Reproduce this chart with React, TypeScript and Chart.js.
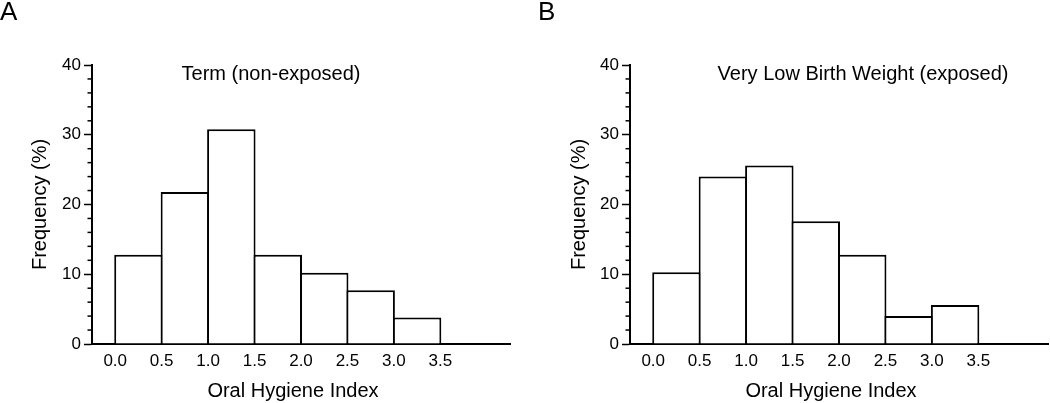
import React, { useEffect, useRef } from "react";
import { Chart, registerables } from "chart.js";

Chart.register(...registerables);

// ---- data ----
const binEdges = [0, 0.5, 1.0, 1.5, 2.0, 2.5, 3.0, 3.5];
const termFreq = [12.8, 21.8, 30.8, 12.8, 10.2, 7.7, 3.8];
const vlbwFreq = [10.3, 24.0, 25.6, 17.6, 12.8, 4.0, 5.6];
const yMajorTicks = [0, 10, 20, 30, 40];
const yMinorStep = 2;
const panelLetters = ["A", "B"];
const panelTitles = ["Term (non-exposed)", "Very Low Birth Weight (exposed)"];
const xAxisTitle = "Oral Hygiene Index";
const yAxisTitle = "Frequency (%)";

const FONT = "'Liberation Sans', Arial, Helvetica, sans-serif";

type Panel = {
  letter: string;
  title: string;
  freq: number[];
  yScaleWidth: number;
  padRight: number;
  yTitlePad: number;
  letterX: number;
  titleX: number;
};

const panels: Panel[] = [
  {
    letter: panelLetters[0],
    title: panelTitles[0],
    freq: termFreq,
    yScaleWidth: 92,
    padRight: 15,
    yTitlePad: 28.5,
    letterX: 0,
    titleX: 271,
  },
  {
    letter: panelLetters[1],
    title: panelTitles[1],
    freq: vlbwFreq,
    yScaleWidth: 105,
    padRight: 2,
    yTitlePad: 42,
    letterX: 13,
    titleX: 338,
  },
];

const annotPlugin = {
  id: "annot",
  afterDraw(chart: any, _args: any, opts: any) {
    const { ctx, chartArea } = chart;
    const y = chart.scales.y;
    ctx.save();
    ctx.strokeStyle = "#000";
    ctx.lineWidth = 1.5;
    for (let v = y.min; v <= y.max; v += yMinorStep) {
      if (yMajorTicks.includes(v)) continue;
      const py = y.getPixelForValue(v);
      ctx.beginPath();
      ctx.moveTo(chartArea.left - 4.5, py);
      ctx.lineTo(chartArea.left, py);
      ctx.stroke();
    }
    ctx.fillStyle = "#000";
    ctx.textBaseline = "alphabetic";
    ctx.font = `26px ${FONT}`;
    ctx.textAlign = "left";
    ctx.fillText(opts.letter, opts.letterX, 20);
    ctx.font = `20px ${FONT}`;
    ctx.textAlign = "center";
    ctx.fillText(opts.title, opts.titleX, 80);
    ctx.fillText(xAxisTitle, (chartArea.left + chartArea.right) / 2 - 8, 397);
    ctx.restore();
  },
};

function makeConfig(p: Panel): any {
  const centers = binEdges.slice(0, -1).map((e, i) => (e + binEdges[i + 1]) / 2);
  return {
    type: "bar",
    data: {
      datasets: [
        {
          data: centers.map((c, i) => ({ x: c, y: p.freq[i] })),
          backgroundColor: "#ffffff",
          borderColor: "#000000",
          borderWidth: 2,
          borderSkipped: "start",
          barPercentage: 1.043,
          categoryPercentage: 1,
          inflateAmount: 0,
        },
      ],
    },
    options: {
      responsive: false,
      animation: false,
      devicePixelRatio: 1,
      layout: { padding: { top: 65, right: p.padRight, left: 0, bottom: 0 } },
      plugins: {
        legend: { display: false },
        tooltip: { enabled: false },
        annot: { letter: p.letter, title: p.title, letterX: p.letterX, titleX: p.titleX },
      },
      scales: {
        x: {
          type: "linear",
          min: -0.25,
          max: 4.25,
          offset: false,
          afterBuildTicks: (s: any) => {
            s.ticks = binEdges.map((v) => ({ value: v }));
          },
          afterFit: (s: any) => {
            s.height = 59;
          },
          ticks: {
            callback: (v: any) => Number(v).toFixed(1),
            font: { size: 17, family: FONT },
            color: "#000",
            padding: 7,
            maxRotation: 0,
            autoSkip: false,
          },
          grid: { display: false, drawOnChartArea: false, drawTicks: false, offset: false },
          border: { display: true, color: "#000", width: 2 },
        },
        y: {
          type: "linear",
          min: 0,
          max: 40,
          afterBuildTicks: (s: any) => {
            s.ticks = yMajorTicks.map((v) => ({ value: v }));
          },
          afterFit: (s: any) => {
            s.width = p.yScaleWidth;
          },
          ticks: {
            font: { size: 17, family: FONT },
            color: "#000",
            padding: 3,
          },
          grid: {
            drawOnChartArea: false,
            drawTicks: true,
            tickLength: 8,
            tickColor: "#000",
            tickWidth: 1.5,
          },
          border: { display: true, color: "#000", width: 2 },
          title: {
            display: true,
            text: yAxisTitle,
            color: "#000",
            font: { size: 20, family: FONT },
            padding: { top: p.yTitlePad, bottom: 0 },
          },
        },
      },
    },
    plugins: [annotPlugin],
  };
}

export default function App() {
  const refA = useRef<HTMLCanvasElement>(null);
  const refB = useRef<HTMLCanvasElement>(null);

  useEffect(() => {
    const refs = [refA, refB];
    const charts = panels.map((p, i) => new Chart(refs[i].current as HTMLCanvasElement, makeConfig(p)));
    return () => charts.forEach((c) => c.destroy());
  }, []);

  return (
    <div style={{ position: "fixed", left: 0, top: 0, width: 1050, height: 403, background: "#fff" }}>
      <canvas ref={refA} width={525} height={403} style={{ position: "absolute", left: 0, top: 0 }} />
      <canvas ref={refB} width={525} height={403} style={{ position: "absolute", left: 525, top: 0 }} />
    </div>
  );
}
